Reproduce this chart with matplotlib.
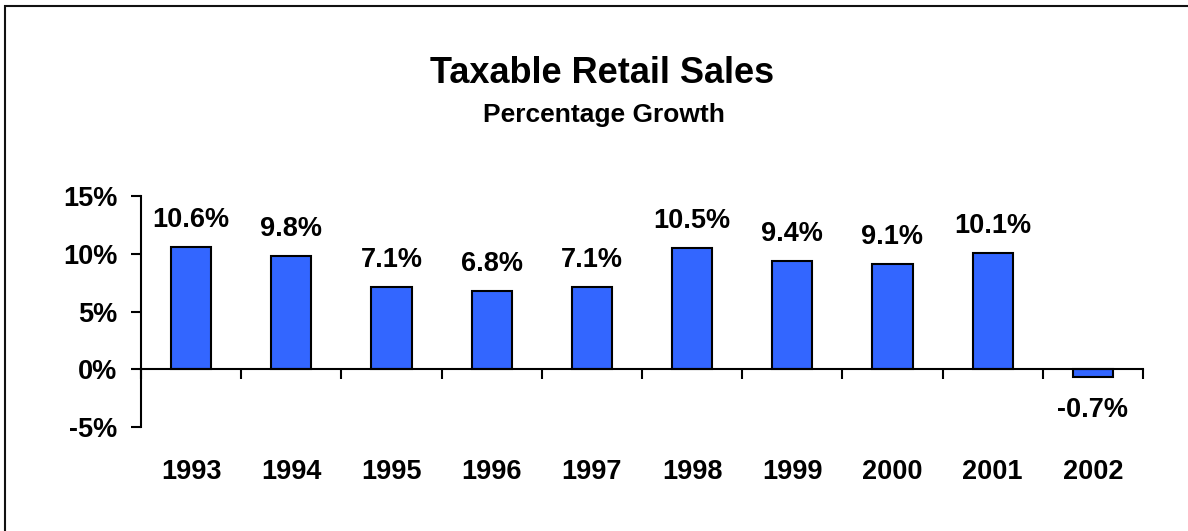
import matplotlib
matplotlib.use("Agg")
import matplotlib.pyplot as plt
from matplotlib.patches import Rectangle

years = ["1993", "1994", "1995", "1996", "1997", "1998", "1999", "2000", "2001", "2002"]
growth = [10.6, 9.8, 7.1, 6.8, 7.1, 10.5, 9.4, 9.1, 10.1, -0.7]
value_labels = ["10.6%", "9.8%", "7.1%", "6.8%", "7.1%", "10.5%", "9.4%", "9.1%", "10.1%", "-0.7%"]
yticks = [-5, 0, 5, 10, 15]
ytick_labels = ["-5%", "0%", "5%", "10%", "15%"]

plt.rcParams['font.family'] = ['Liberation Sans', 'DejaVu Sans']
plt.rcParams['font.weight'] = 'bold'

fig = plt.figure(figsize=(11.88, 5.31), dpi=100)
ax = fig.add_axes([141/1188, 104/531, (1143-141)/1188, 231/531])

x = list(range(len(years)))
ax.bar(x, growth, width=0.4, color="#3366FF", edgecolor="black", linewidth=1.5, zorder=3)

ax.set_xlim(-0.5, len(years) - 0.5)
ax.set_ylim(-5, 15)

for spine in ["top", "right"]:
    ax.spines[spine].set_visible(False)
ax.spines["left"].set_linewidth(1.5)
ax.spines["bottom"].set_position(("data", 0))
ax.spines["bottom"].set_linewidth(1.5)
ax.spines["bottom"].set_zorder(4)

ax.set_yticks(yticks)
ax.set_yticklabels(ytick_labels, fontsize=19.5, fontweight="bold")
ax.tick_params(axis="y", direction="out", length=7, width=1.5, pad=10)

ax.set_xticks([i - 0.5 for i in range(len(years) + 1)])
ax.set_xticklabels([])
ax.tick_params(axis="x", direction="out", length=7, width=1.5)

for xi, yr in zip(x, years):
    ax.text(xi, -0.2264, yr, transform=ax.get_xaxis_transform(), ha="center",
            va="baseline", fontsize=19.5, fontweight="bold")

for xi, v, lab in zip(x, growth, value_labels):
    off = 14.4 if v >= 0 else -28.8
    ax.annotate(lab, (xi, v), xytext=(0, off), textcoords="offset points",
                ha="center", va="baseline", fontsize=19.5, fontweight="bold")

fig.text(602.5/1188, 1 - 83/531, "Taxable Retail Sales", ha="center", va="baseline",
         fontsize=26, fontweight="bold")
fig.text(604/1188, 1 - 122/531, "Percentage Growth", ha="center", va="baseline",
         fontsize=19, fontweight="bold")

border = Rectangle((5/1188, -0.1), 1.2, 1 - 6/531 + 0.1, transform=fig.transFigure,
                   fill=False, edgecolor="#111111", linewidth=1.5, clip_on=False)
fig.patches.append(border)

fig.savefig("out.png", dpi=100)
